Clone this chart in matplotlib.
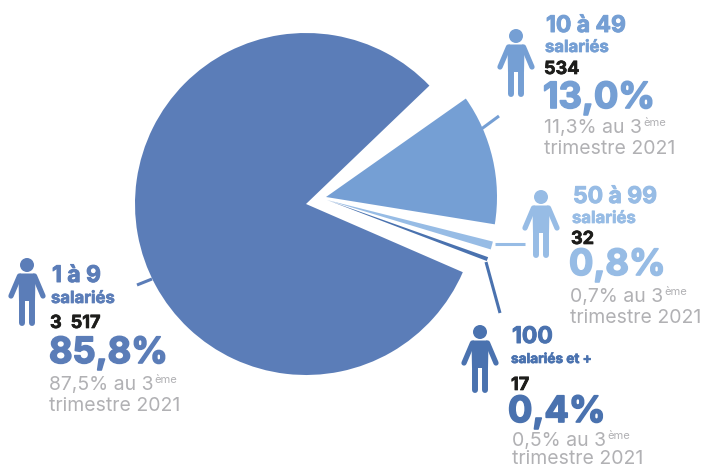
"""
Salaried-staff breakdown by company size, drawn as an exploded pie with
a person icon and a block of text beside each slice.
"""
import matplotlib
matplotlib.use("Agg")
import matplotlib.pyplot as plt
import matplotlib.patheffects as pe
from matplotlib.patches import Circle, Polygon

# data
size_heads = ["1 à 9", "10 à 49", "50 à 99", "100"]
size_tails = ["salariés", "salariés", "salariés", "salariés et +"]
counts = [3517, 534, 32, 17]
shares = [85.8, 13.0, 0.8, 0.4]
previous_shares = [87.5, 11.3, 0.7, 0.5]
previous_quarter = "trimestre 2021"

# styles
colors = ["#5B7DB8", "#759FD4", "#97BCE5", "#4A72AF"]
GREY = "#B1B1B4"
INK = "#1D1D1B"
FONT = "Inter"
W, H = 708, 468
RADIUS = 171
# slices share the circle with the white gaps between them
SWEEP_SCALE = 0.9476

slice_starts = [43.8, -9.2, -16.8, -20.9]
slice_apex = [(306, 204), (326, 197), (327, 200), (327, 200)]
leaders = [
    ((137, 285), (152, 279)),
    ((480, 130), (499, 116)),
    ((495, 244), (525, 244)),
    ((486, 262), (500, 313)),
]
icons = [(27, 265), (516, 36), (541, 197), (480, 332)]
# x of: head, tail, count, share, previous, trimestre
block_x = [
    (52, 51, 50, 49, 49, 49),
    (546, 545, 544, 543, 544, 544),
    (573, 572, 571, 569, 570, 570),
    (512, 511, 511, 508, 512, 512),
]
# baselines, same order
block_y = [
    (282, 303, 328, 363, 390, 411),
    (32, 52, 74, 108, 133, 154),
    (203, 223, 244, 275, 302, 323),
    (343, 363, 390, 422, 446, 464),
]
tail_sizes = [12, 12, 12, 9.8]


def yy(y):
    return H - y


def heavy(color, width):
    # the installed bold is a bit light for these labels
    return [pe.withStroke(linewidth=width, foreground=color)]


def person(ax, x, y, color):
    # head centre sits at x, y; everything else hangs below it
    ax.add_patch(Circle((x, yy(y)), 7, color=color, lw=0))
    torso = [(-7, 8.5), (7, 8.5), (8.5, 11), (8, 36), (-8, 36), (-8.5, 11)]
    ax.add_patch(Polygon([(x + a, yy(y + b)) for a, b in torso], color=color, lw=0))
    for side in (-1, 1):
        ax.plot([x + side * 7.5, x + side * 16], [yy(y + 11), yy(y + 31)],
                color=color, lw=3.8, solid_capstyle="round")
        ax.plot([x + side * 4.8, x + side * 4.8], [yy(y + 34), yy(y + 58)],
                color=color, lw=4.3, solid_capstyle="round")


def text_block(ax, i):
    color = colors[i]
    xs, ys = block_x[i], block_y[i]
    common = dict(family=FONT, ha="left", va="baseline")
    ax.text(xs[0], yy(ys[0]), size_heads[i], color=color, fontsize=16.5, weight="bold",
            path_effects=heavy(color, 0.7), **common)
    ax.text(xs[1], yy(ys[1]), size_tails[i], color=color, fontsize=tail_sizes[i], weight="bold",
            path_effects=heavy(color, 0.5), **common)
    ax.text(xs[2], yy(ys[2]), f"{counts[i]:,}".replace(",", "\u2002"), color=INK, fontsize=13, weight="bold",
            path_effects=heavy(INK, 0.5), **common)
    ax.text(xs[3], yy(ys[3]), f"{shares[i]:.1f}%".replace(".", ","), color=color, fontsize=26, weight="bold",
            path_effects=heavy(color, 1.2), **common)
    prev = ax.text(xs[4], yy(ys[4]), f"{previous_shares[i]:.1f}%".replace(".", ",") + " au 3",
                   color=GREY, fontsize=14, **common)
    ax.text(xs[5], yy(ys[5]), previous_quarter, color=GREY, fontsize=14, **common)
    # superscript goes right after the measured text
    box = prev.get_window_extent(ax.figure.canvas.get_renderer())
    ax.text(box.x1 + 1, yy(ys[4] - 7), "ème", color=GREY, fontsize=8, **common)


fig = plt.figure(figsize=(W / 100, H / 100), dpi=100)
ax = fig.add_axes([0, 0, 1, 1])

for i, share in enumerate(shares):
    x, y = slice_apex[i]
    ax.pie([share / 100 * SWEEP_SCALE], colors=[colors[i]], startangle=slice_starts[i],
           radius=RADIUS, center=(x, yy(y)), normalize=False, wedgeprops=dict(linewidth=0))

ax.set_xlim(0, W)
ax.set_ylim(0, H)
ax.set_aspect("auto")
ax.axis("off")

for i, ((x0, y0), (x1, y1)) in enumerate(leaders):
    ax.plot([x0, x1], [yy(y0), yy(y1)], color=colors[i], lw=2.2, solid_capstyle="butt")

for i, (x, y) in enumerate(icons):
    person(ax, x, y, colors[i])
    text_block(ax, i)

fig.savefig("out.png", dpi=100)
plt.close(fig)
